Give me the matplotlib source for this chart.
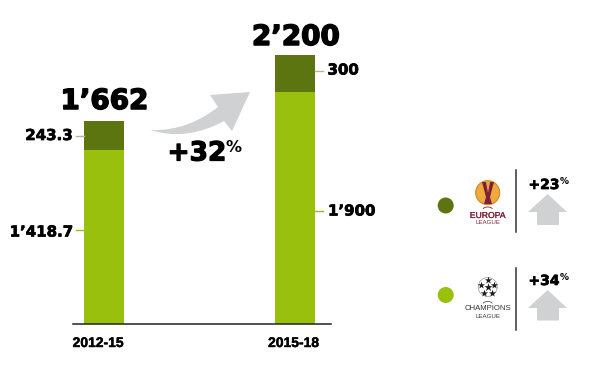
import numpy as np
import matplotlib
matplotlib.use('Agg')
import matplotlib.pyplot as plt
import matplotlib.patheffects as pe
from matplotlib.patches import Arc, Circle, PathPatch, Polygon
from matplotlib.path import Path

periods = ['2012-15', '2015-18']
champions = [1418.7, 1900]
europa = [243.3, 300]
totals = ["1\u2019662", "2\u2019200"]
champions_labels = ["1\u2019418.7", "1\u2019900"]
europa_labels = ['243.3', '300']

DARK = '#5c7511'
LIGHT = '#99c00d'
GREY = '#d0d1d3'
W, H = 599, 367

plt.rcParams['font.family'] = ['DejaVu Sans']

fig = plt.figure(figsize=(W / 100, H / 100), dpi=100)

# bars, baseline at y=323.5px, 0.122 px per unit
ax = fig.add_axes([72.5 / W, (H - 323.5) / H, 258.5 / W, 300 / H])
ax.bar([0, 1], champions, width=40 / 191, color=LIGHT)
ax.bar([0, 1], europa, bottom=champions, width=40 / 191, color=DARK)
ax.set_xlim(-31.5 / 191, 227 / 191)
ax.set_ylim(0, 300 / 0.122)
for s in ['top', 'left', 'right']:
    ax.spines[s].set_visible(False)
ax.spines['bottom'].set_color('#222222')
ax.spines['bottom'].set_linewidth(1.1)
ax.set_yticks([])
ax.set_xticks([])
ax.patch.set_alpha(0)

# overlay in pixel coordinates for labels and decoration
ov = fig.add_axes([0, 0, 1, 1])
ov.set_xlim(0, W)
ov.set_ylim(H, 0)
ov.axis('off')
ov.patch.set_alpha(0)


def label(x, y, s, size, ha='center', stroke=0.5, color='black', family='DejaVu Sans', weight='bold'):
    t = ov.text(x, y, s, fontsize=size, fontweight=weight, family=family, ha=ha, va='center', color=color)
    if stroke:
        t.set_path_effects([pe.withStroke(linewidth=stroke, foreground=color)])
    return t


label(104.5, 101, totals[0], 20, stroke=1.1)
label(296, 37, totals[1], 20, stroke=1.1)

label(73, 135.5, europa_labels[0], 10.8, ha='right', stroke=0.5)
label(73, 232, champions_labels[0], 10.8, ha='right', stroke=0.5)
label(327.5, 70, europa_labels[1], 10.8, ha='left', stroke=0.5)
label(328, 211, champions_labels[1], 10.8, ha='left', stroke=0.5)

ov.plot([76, 84], [136, 136], color='#b0bb8a', lw=1)
ov.plot([315, 323], [71, 71], color='#b0bb8a', lw=1)
ov.plot([76, 84], [230, 230], color=LIGHT, lw=1)
ov.plot([315, 323], [210.5, 210.5], color=LIGHT, lw=1)

label(98, 343, periods[0], 10, stroke=0.3, family='Liberation Sans')
label(293.5, 343, periods[1], 10, stroke=0.3, family='Liberation Sans')

# curved growth arrow
verts = [(150.5, 130), (178, 131), (200, 121), (218, 107), (210, 95), (250, 92), (232, 131),
         (224, 121), (200, 134), (175, 138), (150.5, 130), (150.5, 130)]
codes = [Path.MOVETO, Path.CURVE4, Path.CURVE4, Path.CURVE4, Path.LINETO, Path.LINETO, Path.LINETO,
         Path.LINETO, Path.CURVE4, Path.CURVE4, Path.CURVE4, Path.CLOSEPOLY]
ov.add_patch(PathPatch(Path(verts, codes), fc=GREY, ec='none'))

label(167.5, 153.5, '+32', 19, ha='left', stroke=0.9)
label(225.5, 148, '%', 11.5, ha='left', stroke=0)

# legend side
ov.add_patch(Circle((445.7, 205.5), 8, fc=DARK, ec='none'))
ov.add_patch(Circle((445.7, 295), 8, fc=LIGHT, ec='none'))
ov.plot([515.7, 515.7], [170, 232], color='#333333', lw=1.1)
ov.plot([515.7, 515.7], [268, 330], color='#333333', lw=1.1)


def up_arrow(tip, base, bottom):
    pts = [(547.7, tip), (567, base), (559, base), (559, bottom), (537, bottom), (537, base), (528, base)]
    ov.add_patch(Polygon(pts, closed=True, fc=GREY, ec='none'))


up_arrow(194, 212, 225)
up_arrow(290, 308, 320.5)

label(528.5, 185, '+23', 10, ha='left', stroke=0.5)
label(559.5, 181, '%', 6.5, ha='left', stroke=0)
label(528.5, 281, '+34', 10, ha='left', stroke=0.5)
label(559.5, 277, '%', 6.5, ha='left', stroke=0)

# europa league badge
MAROON = '#7c2138'
ov.add_patch(Circle((487.7, 192.7), 12, fc='#eea93f', ec='#c98a22', lw=0.8))
ov.add_patch(Polygon([(482, 182), (486, 182), (488, 193), (490, 182), (494, 182), (490, 197),
                      (492, 204), (484, 204), (486, 197)], closed=True, fc=MAROON, ec='none'))
ov.add_patch(Arc((487.7, 209), 9, 4, theta1=180, theta2=360, color=MAROON, lw=0.6))
label(487.7, 215.5, 'EUROPA', 6.2, stroke=0.15, color=MAROON, family='Liberation Sans', weight='normal')
label(487.7, 222.5, 'LEAGUE', 4.4, stroke=0, color=MAROON, family='Liberation Sans', weight='normal')

# champions league badge
ov.add_patch(Circle((487.7, 287), 9.5, fc='white', ec='#555555', lw=0.3))
for a in np.deg2rad([90, 162, 234, 306, 18]):
    ov.scatter(487.7 + 7 * np.cos(a), 287 - 7 * np.sin(a), marker='*', s=30, c='#1a1a1a', linewidths=0)
ov.scatter(487.7, 287, marker='*', s=38, c='#1a1a1a', linewidths=0)
ov.add_patch(Arc((487.7, 303.5), 9, 4, theta1=180, theta2=360, color='#555555', lw=0.6))
label(487.7, 309, 'CHAMPIONS', 5.6, stroke=0, color='#333333', family='Liberation Sans', weight='normal')
label(487.7, 316, 'LEAGUE', 4.4, stroke=0, color='#333333', family='Liberation Sans', weight='normal')

fig.savefig('out.png', dpi=100)
